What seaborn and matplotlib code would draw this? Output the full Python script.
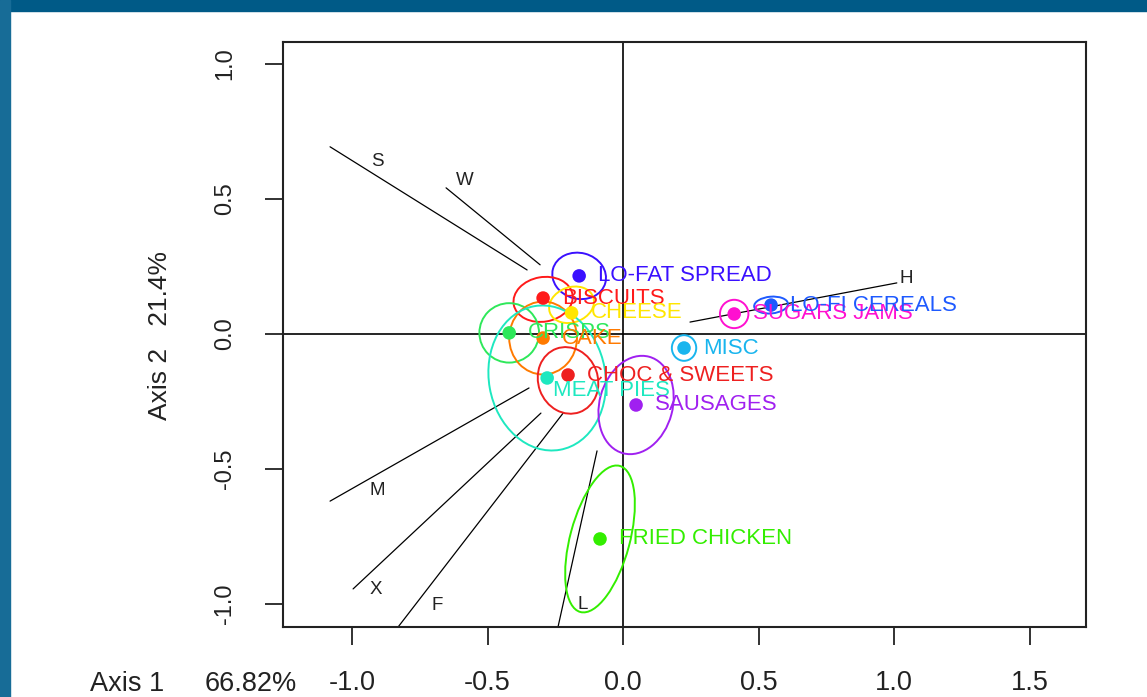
import pandas as pd
import matplotlib
matplotlib.use("Agg")
import matplotlib.pyplot as plt
from matplotlib.patches import Ellipse, Rectangle
import seaborn as sns

# food groups: centroid scores on axes 1 and 2
groups = ["LO-FAT SPREAD", "BISCUITS", "CHEESE", "CRISPS", "CAKE", "CHOC & SWEETS",
          "MEAT PIES", "SAUSAGES", "MISC", "SUGARS JAMS", "LO-FI CEREALS", "FRIED CHICKEN"]
score_x = [-0.162, -0.295, -0.190, -0.420, -0.295, -0.203, -0.280, 0.048, 0.225, 0.410, 0.546, -0.085]
score_y = [0.215, 0.133, 0.078, 0.004, -0.015, -0.152, -0.163, -0.263, -0.052, 0.074, 0.107, -0.759]
group_colors = ["#3a10ff", "#ff1a1a", "#ffe600", "#2ee85a", "#ff7a00", "#ee2020",
                "#1ee8c0", "#a020f0", "#19b5ee", "#ff10d0", "#1e5aff", "#33ee00"]

# confidence ellipses (width, height, rotation in degrees)
ell_w = [0.20, 0.22, 0.17, 0.22, 0.25, 0.22, 0.43, 0.27, 0.09, 0.105, 0.125, 0.56]
ell_h = [0.17, 0.165, 0.13, 0.22, 0.27, 0.25, 0.54, 0.37, 0.095, 0.105, 0.062, 0.22]
ell_angle = [-15, 10, 20, 0, 0, 20, 10, -15, 0, 0, 5, 75]
ell_dy = [0.0, -0.005, 0.03, 0.0, 0.0, -0.02, 0.0, 0.0, 0.0, 0.0, 0.0, 0.0]

# variable loadings drawn as plain lines
var_names = ["S", "W", "H", "M", "X", "F", "L"]
var_x0 = [-1.081, -0.653, 0.247, -1.081, -0.996, -0.830, -0.240]
var_y0 = [0.693, 0.541, 0.044, -0.619, -0.944, -1.085, -1.085]
var_x1 = [-0.354, -0.306, 1.010, -0.347, -0.303, -0.221, -0.096]
var_y1 = [0.237, 0.256, 0.189, -0.200, -0.293, -0.293, -0.433]
var_lx = [-0.908, -0.583, 1.045, -0.908, -0.911, -0.686, -0.148]
var_ly = [0.637, 0.567, 0.204, -0.578, -0.948, -1.007, -1.000]

x_ticks = [-1.0, -0.5, 0.0, 0.5, 1.0, 1.5]
y_ticks = [-1.0, -0.5, 0.0, 0.5, 1.0]

df = pd.DataFrame({"group": groups, "x": score_x, "y": score_y})
palette = dict(zip(groups, group_colors))

sns.set_style("ticks")
plt.rcParams["font.family"] = ["Liberation Sans", "DejaVu Sans"]

fig = plt.figure(figsize=(11.47, 6.97), dpi=100)
fig.patch.set_facecolor("white")
fig.patches.append(Rectangle((0, 1 - 11 / 697), 1, 11 / 697, transform=fig.transFigure,
                             color="#005a87", zorder=0))
fig.patches.append(Rectangle((0, 0), 10 / 1147, 1, transform=fig.transFigure,
                             color="#176c97", zorder=0))

ax = fig.add_axes([283 / 1147, 70 / 697, 803 / 1147, 585 / 697])
ax.set_facecolor("white")

for i, g in enumerate(groups):
    ax.add_patch(Ellipse((score_x[i], score_y[i] + ell_dy[i]), ell_w[i], ell_h[i],
                         angle=ell_angle[i], fill=False, edgecolor=group_colors[i],
                         lw=1.4, zorder=2))

for i, v in enumerate(var_names):
    ax.plot([var_x0[i], var_x1[i]], [var_y0[i], var_y1[i]], color="black", lw=0.9, zorder=1)
    ax.text(var_lx[i], var_ly[i], v, fontsize=13.5, color="#222222", ha="center", va="center")

ax.axhline(0, color="black", lw=1.2, zorder=1)
ax.axvline(0, color="black", lw=1.2, zorder=1)

sns.scatterplot(data=df, x="x", y="y", hue="group", palette=palette, s=95,
                linewidth=0, legend=False, ax=ax, zorder=3)

label_dx = [0.07] * len(groups)
label_dy = [0.0] * len(groups)
label_dx[groups.index("MEAT PIES")] = 0.02
label_dy[groups.index("MEAT PIES")] = -0.045
for i, g in enumerate(groups):
    ax.text(score_x[i] + label_dx[i], score_y[i] + label_dy[i], g, fontsize=16,
            color=group_colors[i], ha="left", va="center", zorder=4)

ax.set_xlim(-1.2546, 1.708)
ax.set_ylim(-1.085, 1.081)
ax.set_xticks(x_ticks)
ax.set_xticklabels([f"{t:.1f}" for t in x_ticks], fontsize=19.5)
ax.set_yticks(y_ticks)
ax.set_yticklabels([f"{t:.1f}" for t in y_ticks], fontsize=17, rotation=90, va="center")
ax.tick_params(axis="x", length=13, width=1.3, pad=18, colors="#222222")
ax.tick_params(axis="y", length=13, width=1.3, pad=21, colors="#222222")
ax.set_xlabel("")
ax.set_ylabel("")
for sp in ax.spines.values():
    sp.set_linewidth(1.5)
    sp.set_color("#222222")

fig.text(90 / 1147, 13 / 697, "Axis 1", fontsize=19.5, va="center", ha="left", color="#222222")
fig.text(205 / 1147, 13 / 697, "66.82%", fontsize=19.5, va="center", ha="left", color="#222222")
fig.text(160 / 1147, (697 - 335) / 697, "Axis 2   21.4%", fontsize=19, rotation=90,
         va="center", ha="center", color="#222222")

fig.savefig("out.png", dpi=100)
